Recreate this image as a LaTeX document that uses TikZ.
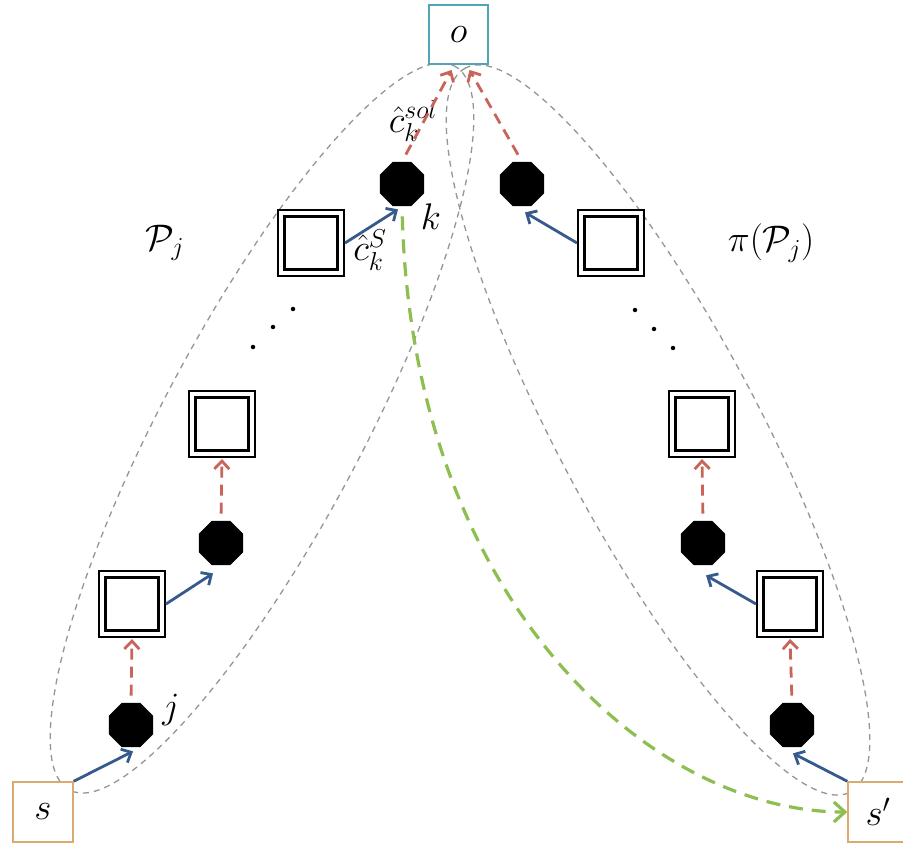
\documentclass[tikz,border=0pt]{standalone}
\usepackage{fix-cm}
\usetikzlibrary{shapes.geometric,arrows.meta}
\definecolor{redc}{RGB}{200,100,90}
\definecolor{bluc}{RGB}{55,90,140}
\definecolor{grnc}{RGB}{140,190,80}
\definecolor{tealc}{RGB}{80,165,180}
\definecolor{tanc}{RGB}{220,170,110}
\definecolor{grayc}{RGB}{150,150,150}
\begin{document}
\begin{tikzpicture}[x=1pt,y=-1pt,
  every node/.style={font=\fontsize{37}{44}\selectfont},
  oct/.style={regular polygon, regular polygon sides=8, fill=black, minimum size=48pt, inner sep=0pt},
  dbox/.style={draw, line width=2pt, minimum size=66pt, inner sep=0pt,
    path picture={\draw[line width=3.5pt] ([shift={(6.5pt,6.5pt)}]path picture bounding box.south west) rectangle ([shift={(-6.5pt,-6.5pt)}]path picture bounding box.north east);}},
  termbox/.style={draw, line width=1.5pt, fill=white, minimum size=59pt, inner sep=0pt},
  ell/.style={draw=grayc, line width=1.3pt, dash pattern=on 6pt off 5pt},
  blu/.style={draw=bluc, line width=2.8pt, -{Straight Barb[length=8pt,width=15pt]}},
  redd/.style={draw=redc, line width=2.8pt, dash pattern=on 11pt off 7pt, -{Straight Barb[length=8pt,width=15pt]}},
  grn/.style={draw=grnc, line width=3.2pt, dash pattern=on 14pt off 9pt, -{Straight Barb[length=11pt,width=20pt]}},
  dotn/.style={circle, fill=black, inner sep=0pt, minimum size=4.5pt},
  lbl/.style={inner sep=0pt}
]
\useasboundingbox (0,0) rectangle (903,845);
\fill[white] (0,0) rectangle (903,845);

% ellipses
\draw[ell, rotate around={62:(262,428)}] (262,428) ellipse [x radius=410pt, y radius=100pt];
\draw[ell, rotate around={118:(658,430)}] (658,430) ellipse [x radius=410pt, y radius=100pt];

% terminal boxes
\node[termbox, draw=tealc] (o) at (458.5,34.5) {$o$};
\node[termbox, draw=tanc, minimum size=60pt] (s) at (43,812) {$s$};
\node[termbox, draw=tanc, minimum size=60pt] (sp) at (878,812) {$s'$};

% left chain
\node[oct] (lj) at (131,725) {};
\node[dbox] (lb1) at (132,604) {};
\node[oct] (lo2) at (221,543) {};
\node[dbox] (lb2) at (222,424) {};
\node[dotn] (ld1) at (253,347) {};
\node[dotn] (ld2) at (273,327) {};
\node[dotn] (ld3) at (293,309) {};
\node[dbox] (lb3) at (311,243) {};
\node[oct] (lk) at (402,184) {};

% right chain
\node[oct] (ro1) at (792,725) {};
\node[dbox] (rb1) at (790,604) {};
\node[oct] (ro2) at (703,543) {};
\node[dbox] (rb2) at (702,424) {};
\node[dotn] (rd1) at (673,348) {};
\node[dotn] (rd2) at (654,329) {};
\node[dotn] (rd3) at (635,310) {};
\node[dbox] (rb3) at (611,243) {};
\node[oct] (ro3) at (522,184) {};

% labels
\node[lbl] (lab-j) at (171,710) {$j$};
\node[lbl] (lab-k) at (431,217) {$k$};
\node[lbl] (lab-cs) at (370,250) {$\hat{c}_k^S$};
\node[lbl] (lab-csol) at (413,121) {$\hat{c}_k^{sol}$};
\node[lbl] (lab-P) at (165,243) {$\mathcal{P}_j$};
\node[lbl] (lab-pi) at (771,243) {$\pi(\mathcal{P}_j)$};

% left connectors
\draw[blu] (s.north east) -- ([shift={(2pt,-4pt)}]lj.south);
\draw[redd, shorten <=7pt, shorten >=1pt] (lj.north) -- (lb1.south);
\draw[blu] (lb1.east) -- ([shift={(-8pt,-8pt)}]lo2.south);
\draw[redd, shorten <=7pt, shorten >=1pt] (lo2.north) -- (lb2.south);
\draw[blu] (lb3.east) -- ([shift={(-4pt,-3pt)}]lk.south);
\draw[redd, shorten <=8pt, shorten >=6pt] (lk.north) -- ([xshift=-4pt]o.south);

% right connectors
\draw[blu] (sp.north west) -- ([shift={(1pt,-6pt)}]ro1.south);
\draw[redd, shorten <=7pt, shorten >=1pt] (ro1.north) -- (rb1.south);
\draw[blu] (rb1.west) -- ([shift={(3pt,-10pt)}]ro2.south);
\draw[redd, shorten <=7pt, shorten >=1pt] (ro2.north) -- (rb2.south);
\draw[blu] (rb3.west) -- ([shift={(3pt,-6pt)}]ro3.south);
\draw[redd, shorten <=8pt, shorten >=6pt] (ro3.north) -- ([xshift=8pt]o.south);

% green path
\draw[grn, shorten <=10pt] (lk.south) .. controls (413,600) and (650,812) .. (sp.west);
\end{tikzpicture}
\end{document}
